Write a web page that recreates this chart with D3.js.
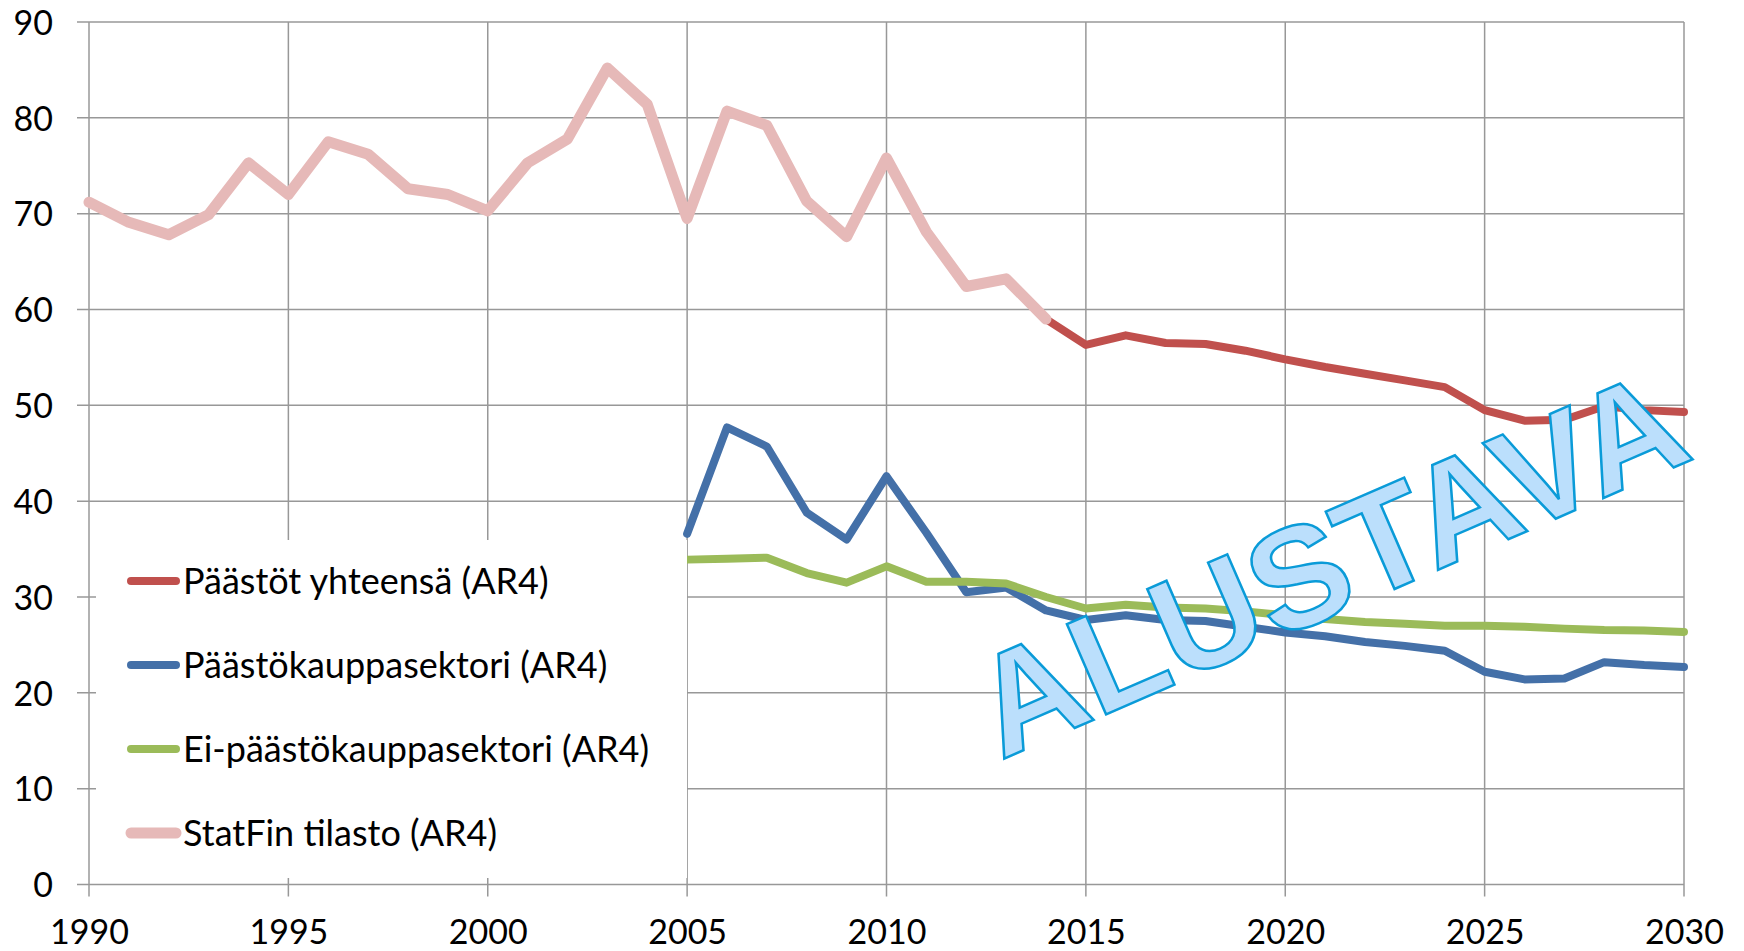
<!DOCTYPE html>
<html>
<head>
<meta charset="utf-8">
<script src="https://cdn.jsdelivr.net/npm/d3@7"></script>
<style>
    body { margin: 0; background: #fff; }
    svg { display: block; font-family: Lato, "Open Sans", sans-serif; }
</style>
</head>
<body>
<svg id="chart" width="1744" height="951"></svg>
<script>
// vuodet ja sarjat
var yearsHist = d3.range(1990, 2015);
var yearsTotal = d3.range(2014, 2031);
var yearsSector = d3.range(2005, 2031);

var statFin = [71.2, 69.1, 67.8, 69.9, 75.3, 72.0, 77.5, 76.2, 72.6, 72.0,
    70.3, 75.3, 77.8, 85.2, 81.4, 69.5, 80.7, 79.2, 71.3, 67.6,
    75.8, 68.1, 62.4, 63.2, 59.0];
var paastotYht = [59.0, 56.3, 57.3, 56.5, 56.4, 55.7, 54.8, 54.0, 53.3, 52.6,
    51.9, 49.5, 48.4, 48.5, 49.9, 49.5, 49.3];
var paastokauppa = [36.6, 47.7, 45.7, 38.8, 36.0, 42.6, 36.7, 30.5, 31.0, 28.6,
    27.6, 28.1, 27.6, 27.5, 26.9, 26.3, 25.9, 25.3, 24.9, 24.4,
    22.2, 21.4, 21.5, 23.2, 22.9, 22.7];
var eiPaastokauppa = [33.9, 34.0, 34.1, 32.5, 31.5, 33.2, 31.6, 31.6, 31.4, 30.0,
    28.8, 29.2, 28.9, 28.8, 28.5, 28.1, 27.7, 27.4, 27.2, 27.0,
    27.0, 26.9, 26.7, 26.55, 26.5, 26.35];

var xTicks = [1990, 1995, 2000, 2005, 2010, 2015, 2020, 2025, 2030];
var yTicks = [0, 10, 20, 30, 40, 50, 60, 70, 80, 90];

var legendLabels = ["Päästöt yhteensä (AR4)", "Päästökauppasektori (AR4)",
    "Ei-päästökauppasektori (AR4)", "StatFin tilasto (AR4)"];
var seriesColors = ["#c0504d", "#4470a8", "#9bbb59", "#e6b9b8"];
var watermarkText = "ALUSTAVA";

var svg = d3.select('#chart');
// note: "top" is window.top, so plot edges get own names
var plotLeft = 89, plotTop = 22, plotRight = 1684, plotBottom = 884.5;

var x = d3.scaleLinear().domain([1990, 2030]).range([plotLeft, plotRight]);
var y = d3.scaleLinear().domain([0, 90]).range([plotBottom, plotTop]);

var gridColor = "#989898";

// gridlines
svg.append('g').selectAll('line')
    .data(yTicks)
    .enter().append('line')
    .attr('x1', plotLeft - 12).attr('x2', plotRight)
    .attr('y1', function(d) { return y(d); })
    .attr('y2', function(d) { return y(d); })
    .attr('stroke', gridColor).attr('stroke-width', 1.5);

svg.append('g').selectAll('line')
    .data(xTicks)
    .enter().append('line')
    .attr('x1', function(d) { return x(d); })
    .attr('x2', function(d) { return x(d); })
    .attr('y1', plotTop).attr('y2', plotBottom + 12)
    .attr('stroke', gridColor).attr('stroke-width', 1.5);

// axis labels through d3 axes, domain and ticks hidden
var yAxis = svg.append('g')
    .attr('transform', 'translate(' + (plotLeft - 36) + ',0)')
    .call(d3.axisLeft(y).tickValues(yTicks).tickSize(0).tickPadding(0));
var xAxis = svg.append('g')
    .attr('transform', 'translate(0,' + (plotBottom + 34) + ')')
    .call(d3.axisBottom(x).tickValues(xTicks).tickFormat(d3.format('d')).tickSize(0).tickPadding(0));

[yAxis, xAxis].forEach(function(ax) {
    ax.select('.domain').remove();
    ax.selectAll('text')
        .style('font-family', 'Lato, sans-serif')
        .style('font-size', '34px')
        .attr('fill', '#000');
});
yAxis.selectAll('text').attr('dy', '0.36em').attr('x', 0);
xAxis.selectAll('text').attr('dy', '0.76em');

// series
var line = d3.line()
    .x(function(d) { return x(d[0]); })
    .y(function(d) { return y(d[1]); });

function drawSeries(years, values, color, width) {
    svg.append('path')
        .datum(d3.zip(years, values))
        .attr('d', line)
        .attr('fill', 'none')
        .attr('stroke', color)
        .attr('stroke-width', width)
        .attr('stroke-linejoin', 'round')
        .attr('stroke-linecap', 'round');
}

drawSeries(yearsTotal, paastotYht, seriesColors[0], 8);
drawSeries(yearsSector, paastokauppa, seriesColors[1], 8);
drawSeries(yearsSector, eiPaastokauppa, seriesColors[2], 8);
drawSeries(yearsHist, statFin, seriesColors[3], 11);

// legend on white box
var legend = svg.append('g');
legend.append('rect')
    .attr('x', 96).attr('y', 540)
    .attr('width', 591).attr('height', 338)
    .attr('fill', '#fff');

var legendItems = legend.selectAll('g')
    .data(legendLabels)
    .enter().append('g')
    .attr('transform', function(d, i) { return 'translate(0,' + (581 + i * 84) + ')'; });

legendItems.append('line')
    .attr('x1', 131).attr('x2', 176)
    .attr('stroke', function(d, i) { return seriesColors[i]; })
    .attr('stroke-width', function(d, i) { return i == 3 ? 11 : 8; })
    .attr('stroke-linecap', 'round');

legendItems.append('text')
    .attr('x', 183)
    .attr('dy', '0.36em')
    .style('font-size', '36px')
    .text(function(d) { return d; });

// watermark
svg.append('text')
    .attr('transform', 'translate(1001,760) rotate(-23.5)')
    .attr('textLength', 758)
    .attr('lengthAdjust', 'spacingAndGlyphs')
    .style('font-family', '"Liberation Sans", Arial, sans-serif')
    .style('font-weight', 'bold')
    .style('font-size', '143px')
    .attr('fill', '#bbdffc')
    .attr('stroke', '#0a9bd8')
    .attr('stroke-width', 2.5)
    .attr('stroke-linejoin', 'miter')
    .text(watermarkText);
</script>
</body>
</html>
